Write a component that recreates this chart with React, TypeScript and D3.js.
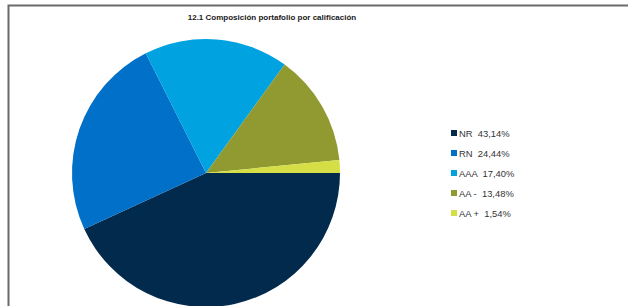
import React, { useEffect, useRef } from "react";
import * as d3 from "d3";

const labels = ["NR", "RN", "AAA", "AA -", "AA +"];
const values = [43.14, 24.44, 17.4, 13.48, 1.54];
const colors = ["#012A4C", "#0070C9", "#00A3DF", "#919A30", "#D5DE44"];
const title = "12.1 Composición portafolio por calificación";

export default function App() {
  const ref = useRef<SVGSVGElement>(null);

  useEffect(() => {
    const svg = d3.select(ref.current);
    svg.selectAll("*").remove();

    const width = 628,
      height = 306;
    svg.attr("width", width).attr("height", height);

    svg.append("rect").attr("width", width).attr("height", height).attr("fill", "#fff");

    // frame (top + left)
    svg
      .append("path")
      .attr("d", `M8.5,${height} L8.5,5.5 L${width},5.5`)
      .attr("fill", "none")
      .attr("stroke", "#6b6b6b")
      .attr("stroke-width", 2);

    svg
      .append("text")
      .attr("x", 272)
      .attr("y", 20)
      .attr("text-anchor", "middle")
      .style("font-family", "'Liberation Sans', Arial, sans-serif")
      .style("font-weight", "bold")
      .style("font-size", "8px")
      .attr("fill", "#1a1a1a")
      .text(title);

    const data = labels.map((l, i) => ({ label: l, value: values[i] }));
    const radius = 134;
    const g = svg.append("g").attr("transform", "translate(206,173)");

    const pie = d3
      .pie<{ label: string; value: number }>()
      .value((d) => d.value)
      .sort(null)
      .startAngle(Math.PI / 2)
      .endAngle(Math.PI / 2 + 2 * Math.PI);
    const arc = d3.arc<d3.PieArcDatum<{ label: string; value: number }>>().innerRadius(0).outerRadius(radius);

    g.selectAll("path")
      .data(pie(data))
      .enter()
      .append("path")
      .attr("d", arc)
      .attr("fill", (d, i) => colors[i]);

    const y = d3.scalePoint<string>().domain(labels).range([133, 213]);
    const leg = svg.append("g");
    const rows = leg.selectAll("g").data(data).enter().append("g").attr("transform", (d) => `translate(451,${y(d.label)})`);
    rows
      .append("rect")
      .attr("x", 0)
      .attr("y", -3)
      .attr("width", 6)
      .attr("height", 6)
      .attr("fill", (d, i) => colors[i]);
    rows
      .append("text")
      .attr("x", 8)
      .attr("y", 3.5)
      .style("font-family", "'Liberation Sans', Arial, sans-serif")
      .style("font-size", "9.4px")
      .style("white-space", "pre")
      .attr("fill", "#333")
      .text((d) => `${d.label}  ${d.value.toFixed(2).replace(".", ",")}%`);
  }, []);

  return <svg ref={ref} style={{ position: "absolute", left: 0, top: 0 }}></svg>;
}
